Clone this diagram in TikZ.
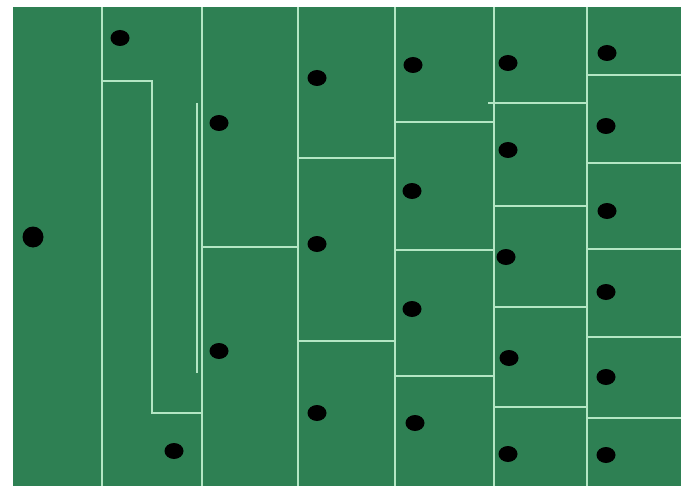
\documentclass[tikz,border=0pt]{standalone}
\usetikzlibrary{shapes.geometric}
\definecolor{field}{HTML}{2E8053}
\definecolor{wall}{HTML}{B4E6C4}
\begin{document}
\begin{tikzpicture}[x=1pt,y=-1pt,
  wallline/.style={draw=wall,line width=1.6pt},
  thinwall/.style={draw=wall,line width=1.1pt},
  dot/.style={ellipse,fill=black,minimum width=19pt,minimum height=16pt,inner sep=0pt},
  bigdot/.style={circle,fill=black,minimum size=21pt,inner sep=0pt}]
\useasboundingbox (0,0) rectangle (681,487);
\fill[white] (0,0) rectangle (681,487);
\fill[field] (13,7) rectangle (681,486);
% vertical walls
\foreach \x in {102,202,298,395,494,587}
  \draw[wallline] (\x,7) -- (\x,486);
% column 2
\draw[wallline] (102,81) -- (152,81) -- (152,413) -- (202,413);
\draw[thinwall] (197,103) -- (197,373);
% column 3
\draw[wallline] (202,247) -- (298,247);
% column 4
\foreach \y in {158,341} \draw[wallline] (298,\y) -- (395,\y);
% column 5
\foreach \y in {122,250,376} \draw[wallline] (395,\y) -- (494,\y);
% column 6
\draw[wallline] (488,103) -- (587,103);
\foreach \y in {206,307,407} \draw[wallline] (494,\y) -- (587,\y);
% column 7
\foreach \y in {75,163,249,337,418} \draw[wallline] (587,\y) -- (681,\y);
% dots
\node[bigdot] (d0) at (33,237) {};
\node[dot] (d1) at (120,38) {};
\node[dot] (d2) at (174,451) {};
\node[dot] (d3) at (219,123) {};
\node[dot] (d4) at (219,351) {};
\node[dot] (d5) at (317,78) {};
\node[dot] (d6) at (317,244) {};
\node[dot] (d7) at (317,413) {};
\node[dot] (d8) at (413,65) {};
\node[dot] (d9) at (412,191) {};
\node[dot] (d10) at (412,309) {};
\node[dot] (d11) at (415,423) {};
\node[dot] (d12) at (508,63) {};
\node[dot] (d13) at (508,150) {};
\node[dot] (d14) at (506,257) {};
\node[dot] (d15) at (509,358) {};
\node[dot] (d16) at (508,454) {};
\node[dot] (d17) at (607,53) {};
\node[dot] (d18) at (606,126) {};
\node[dot] (d19) at (607,211) {};
\node[dot] (d20) at (606,292) {};
\node[dot] (d21) at (606,377) {};
\node[dot] (d22) at (606,455) {};
\end{tikzpicture}
\end{document}
